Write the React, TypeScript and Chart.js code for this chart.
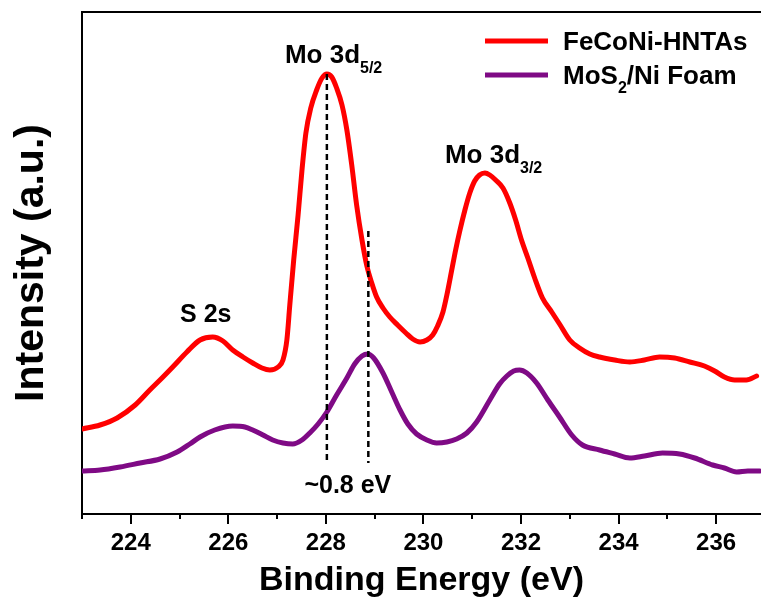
import React, { useEffect, useRef } from "react";
import { Chart, registerables } from "chart.js";

Chart.register(...registerables);

// FeCoNi-HNTAs (red)
const redEnergy = [
  223.0, 223.37, 223.72, 224.09, 224.39, 224.64, 224.86, 225.15, 225.42, 225.68,
  225.89, 226.09, 226.3, 226.5, 226.69, 226.85, 227.02, 227.12, 227.2, 227.26,
  227.34, 227.43, 227.51, 227.59, 227.69, 227.81, 227.92, 228.02, 228.12, 228.22,
  228.33, 228.43, 228.53, 228.63, 228.74, 228.84, 228.94, 229.04, 229.17, 229.31,
  229.47, 229.64, 229.78, 229.93, 230.07, 230.19, 230.29, 230.4, 230.48, 230.58,
  230.66, 230.74, 230.85, 230.95, 231.05, 231.15, 231.26, 231.36, 231.48, 231.63,
  231.77, 231.89, 232.01, 232.14, 232.28, 232.44, 232.63, 232.79, 233.0, 233.2,
  233.41, 233.61, 233.92, 234.23, 234.53, 234.84, 235.15, 235.46, 235.76, 235.97,
  236.17, 236.38, 236.62, 236.83,
];
const redIntensity = [
  85, 89, 96, 109, 124, 136, 147, 162, 174, 177,
  173, 164, 157, 151, 146, 144, 147, 154, 174, 209,
  254, 299, 344, 381, 406, 424, 436, 440, 437, 426,
  409, 384, 349, 309, 274, 248, 231, 217, 206, 197,
  189, 181, 175, 172, 174, 179, 188, 202, 219, 244,
  264, 282, 304, 321, 333, 339, 341, 339, 334, 326,
  311, 294, 274, 256, 236, 216, 202, 190, 174, 166,
  160, 157, 154, 152, 154, 157, 156, 152, 148, 143,
  137, 134, 134, 138,
];

// MoS2/Ni Foam (purple)
const purpleEnergy = [
  223.0, 223.37, 223.78, 224.19, 224.6, 224.95, 225.21, 225.42, 225.72, 226.09,
  226.34, 226.5, 226.71, 226.91, 227.12, 227.32, 227.51, 227.67, 227.84, 228.02,
  228.22, 228.43, 228.59, 228.74, 228.86, 228.98, 229.17, 229.35, 229.52, 229.68,
  229.86, 230.07, 230.27, 230.48, 230.68, 230.89, 231.09, 231.36, 231.56, 231.71,
  231.85, 231.97, 232.12, 232.32, 232.55, 232.79, 233.04, 233.26, 233.61, 233.92,
  234.23, 234.53, 234.9, 235.25, 235.56, 235.93, 236.17, 236.42, 236.65, 236.89,
];
const purpleIntensity = [
  43, 44, 47, 51, 55, 62, 70, 77, 84, 88,
  87, 84, 79, 74, 71, 70, 74, 81, 90, 102,
  119, 136, 150, 158, 160, 156, 141, 122, 104, 90,
  80, 74, 71, 72, 75, 81, 92, 114, 130, 138,
  143, 144, 141, 131, 114, 97, 79, 69, 64, 60,
  56, 58, 61, 60, 56, 49, 46, 42, 43, 43,
];

const xMajorTicks = [224, 226, 228, 230, 232, 234, 236];
const xMinorTicks = [223, 225, 227, 229, 231, 233, 235];

// Dashed peak markers
const peakEnergies = [228.02, 228.87];
const peakTops = [440, 283];
const peakBottom = 51;

const seriesNames = ["FeCoNi-HNTAs", "MoS2/Ni Foam"];
const seriesColors = ["#ff0000", "#7f0a85"];

const FONT = '"Liberation Sans", Arial, Helvetica, sans-serif';

function drawSub(
  ctx: CanvasRenderingContext2D,
  x: number,
  y: number,
  main: string,
  sub: string,
  rest: string,
  size: number,
  subSize: number,
  subDrop: number
) {
  ctx.font = `bold ${size}px ${FONT}`;
  ctx.fillText(main, x, y);
  let cx = x + ctx.measureText(main).width;
  ctx.font = `bold ${subSize}px ${FONT}`;
  ctx.fillText(sub, cx, y + subDrop);
  cx += ctx.measureText(sub).width;
  if (rest) {
    ctx.font = `bold ${size}px ${FONT}`;
    ctx.fillText(rest, cx, y);
  }
}

const overlayPlugin = {
  id: "overlay",
  afterDraw(chart: any) {
    const { ctx, chartArea, scales } = chart;
    const xs = scales.x;
    const ys = scales.y;
    ctx.save();
    // top frame
    ctx.strokeStyle = "#000";
    ctx.lineWidth = 2;
    ctx.beginPath();
    ctx.moveTo(chartArea.left, chartArea.top);
    ctx.lineTo(chartArea.right, chartArea.top);
    ctx.stroke();
    // minor ticks
    for (const v of xMinorTicks) {
      const px = Math.round(xs.getPixelForValue(v));
      ctx.beginPath();
      ctx.moveTo(px, chartArea.bottom);
      ctx.lineTo(px, chartArea.bottom + 5);
      ctx.stroke();
    }
    // dashed peak lines
    ctx.setLineDash([6, 4]);
    ctx.lineWidth = 2.5;
    peakEnergies.forEach((e, i) => {
      const px = xs.getPixelForValue(e);
      ctx.beginPath();
      ctx.moveTo(px, ys.getPixelForValue(peakTops[i]));
      ctx.lineTo(px, ys.getPixelForValue(peakBottom));
      ctx.stroke();
    });
    ctx.setLineDash([]);

    // annotations
    ctx.fillStyle = "#000";
    ctx.textBaseline = "alphabetic";
    ctx.textAlign = "left";
    drawSub(ctx, xs.getPixelForValue(227.16), ys.getPixelForValue(451), "Mo 3d", "5/2", "", 26, 16, 10);
    drawSub(ctx, xs.getPixelForValue(230.44), ys.getPixelForValue(351), "Mo 3d", "3/2", "", 26, 16, 10);
    ctx.font = `bold 25px ${FONT}`;
    ctx.fillText("S 2s", xs.getPixelForValue(225.01), ys.getPixelForValue(192));
    ctx.textAlign = "center";
    ctx.fillText("~0.8 eV", xs.getPixelForValue(228.45), ys.getPixelForValue(21));
    ctx.textAlign = "left";

    // legend
    const lx0 = chartArea.left + 403;
    const lx1 = chartArea.left + 466;
    const tx = chartArea.left + 481;
    const rows = [chartArea.top + 29, chartArea.top + 63];
    ctx.lineWidth = 5;
    seriesColors.forEach((c, i) => {
      ctx.strokeStyle = c;
      ctx.beginPath();
      ctx.moveTo(lx0, rows[i]);
      ctx.lineTo(lx1, rows[i]);
      ctx.stroke();
    });
    ctx.fillStyle = "#000";
    ctx.font = `bold 26px ${FONT}`;
    ctx.fillText(seriesNames[0], tx, rows[0] + 9);
    drawSub(ctx, tx, rows[1] + 9, "MoS", "2", "/Ni Foam", 26, 16, 9);
    ctx.restore();
  },
};

export default function App() {
  const ref = useRef<HTMLCanvasElement | null>(null);
  useEffect(() => {
    document.body.style.margin = "0";
    const canvas = ref.current;
    if (!canvas) return;
    const chart = new Chart(canvas, {
      type: "line",
      data: {
        datasets: [
          {
            label: seriesNames[0],
            data: redEnergy.map((x, i) => ({ x, y: redIntensity[i] })),
            borderColor: seriesColors[0],
            backgroundColor: seriesColors[0],
            borderWidth: 5,
            pointRadius: 0,
            cubicInterpolationMode: "monotone",
            borderJoinStyle: "round",
            borderCapStyle: "round",
            fill: false,
          },
          {
            label: seriesNames[1],
            data: purpleEnergy.map((x, i) => ({ x, y: purpleIntensity[i] })),
            borderColor: seriesColors[1],
            backgroundColor: seriesColors[1],
            borderWidth: 5,
            pointRadius: 0,
            cubicInterpolationMode: "monotone",
            borderJoinStyle: "round",
            borderCapStyle: "round",
            fill: false,
          },
        ],
      },
      options: {
        animation: false,
        responsive: false,
        devicePixelRatio: 1,
        layout: { padding: { top: 12, right: 0, bottom: 0, left: 0 } },
        plugins: {
          legend: { display: false },
          tooltip: { enabled: false },
        },
        scales: {
          x: {
            type: "linear",
            min: 223,
            max: 236.92,
            afterBuildTicks: (scale: any) => {
              scale.ticks = xMajorTicks.map((v) => ({ value: v }));
            },
            afterFit: (scale: any) => {
              scale.height = 87;
            },
            ticks: {
              color: "#000",
              padding: 5,
              maxRotation: 0,
              font: { family: FONT, size: 24, weight: "bold" },
              callback: (v: any) => String(v),
            },
            grid: {
              drawOnChartArea: false,
              drawTicks: true,
              tickLength: 10,
              tickColor: "#000",
              tickWidth: 2,
              color: "#000",
              lineWidth: 2,
            },
            border: { display: true, color: "#000", width: 2 },
            title: {
              display: true,
              text: "Binding Energy (eV)",
              color: "#000",
              padding: { top: 0, bottom: 0 },
              font: { family: FONT, size: 34, weight: "bold" },
            },
          },
          y: {
            type: "linear",
            min: 0,
            max: 502,
            afterFit: (scale: any) => {
              scale.width = 82;
            },
            ticks: { display: false },
            grid: { display: false },
            border: { display: true, color: "#000", width: 2 },
            title: {
              display: true,
              text: "Intensity (a.u.)",
              color: "#000",
              padding: { top: 7, bottom: 0 },
              font: { family: FONT, size: 41, weight: "bold" },
            },
          },
        },
      },
      plugins: [overlayPlugin],
    } as any);
    return () => chart.destroy();
  }, []);
  return (
    <div style={{ width: 761, height: 601, overflow: "hidden", background: "#fff" }}>
      <canvas ref={ref} width={761} height={601} style={{ display: "block" }} />
    </div>
  );
}
